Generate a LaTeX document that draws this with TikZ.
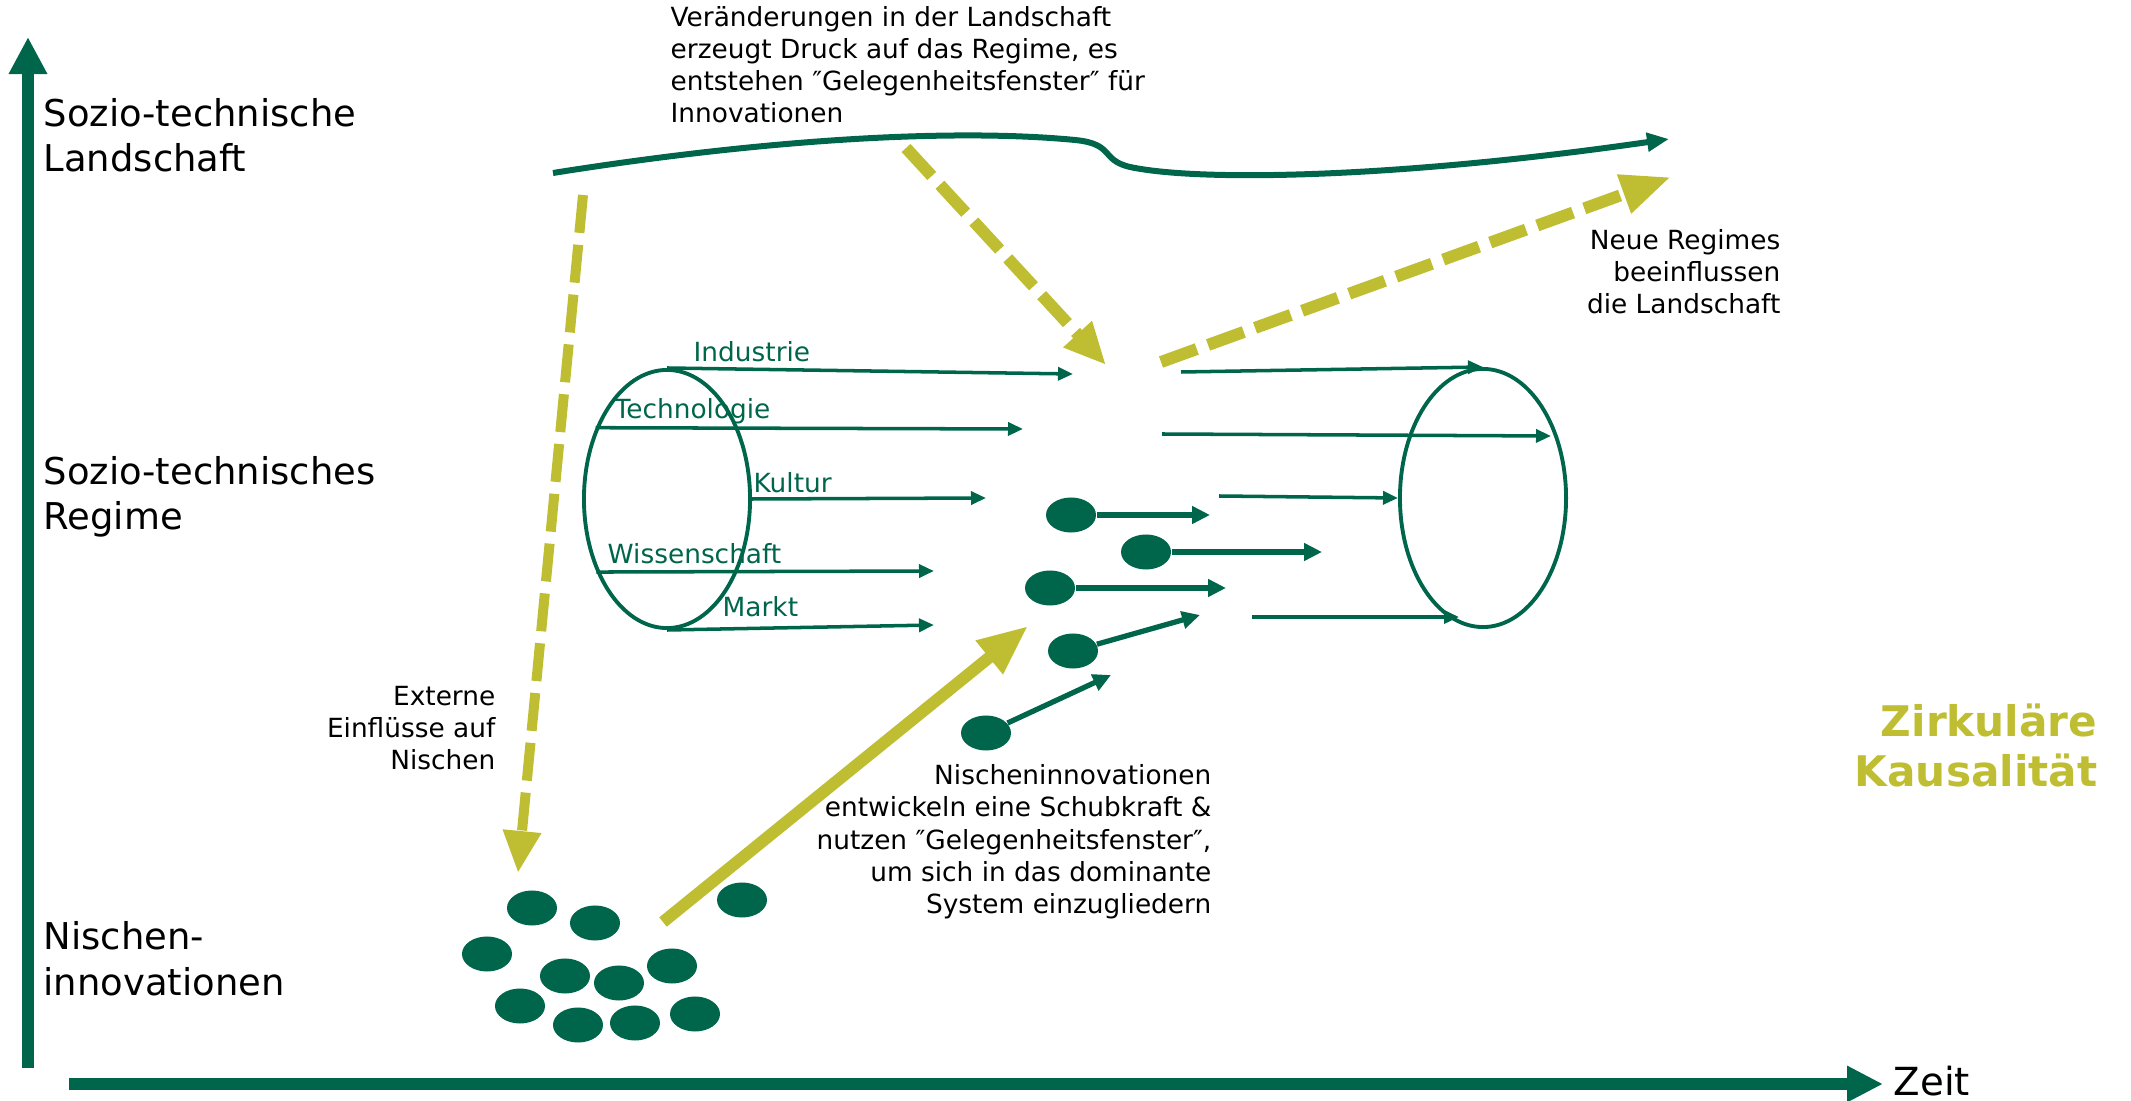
\documentclass[tikz,border=0pt]{standalone}
\usepackage{fontspec}
\setmainfont{DejaVu Sans}
\usepackage{color}
\definecolor{mygreen}{RGB}{0,102,75}
\definecolor{myolive}{RGB}{191,190,51}
\usepackage{tikz}
\usetikzlibrary{arrows.meta,shapes.geometric,positioning,calc}
\tikzstyle{dot}=[fill=mygreen,ellipse,minimum width=0.5cm,minimum height=0.35cm,inner sep=0pt]

\begin{document}
\begin{tikzpicture}[
  x=0.01cm, y=-0.01cm,
  timeaxis/.style={mygreen, line width=0.11cm, -{Triangle[length=0.37cm,width=0.36cm]}},
  regime/.style={draw=mygreen, ellipse, line width=1.1pt, minimum width=1.66cm, minimum height=2.58cm, inner sep=0pt},
  flow/.style={mygreen, line width=1pt, -{Triangle[length=0.15cm,width=0.13cm]}},
  push/.style={mygreen, line width=1.5pt, -{Triangle[length=0.18cm,width=0.17cm]}},
  landline/.style={mygreen, line width=0.06cm, -{Triangle[length=0.22cm,width=0.18cm]}},
  pressure/.style={myolive, line width=0.12cm, dash pattern=on 0.38cm off 0.12cm, -{Triangle[length=0.42cm,width=0.36cm]}},
  axislabel/.style={font=\fontsize{10.5}{12.8}\selectfont, align=left, anchor=base west, inner sep=0pt},
  remark/.style={font=\fontsize{7.5}{9.1}\selectfont, inner sep=0pt},
  dimlabel/.style={text=mygreen, font=\fontsize{7.5}{9}\selectfont, anchor=base west, inner sep=0pt}
]
\useasboundingbox (0,0) rectangle (2131,1101);

% axes
\coordinate (yo) at (28,1068);
\coordinate (ye) at (28,37);
\coordinate (xo) at (69,1084);
\coordinate (xe) at (1883,1084);
\draw[timeaxis] (yo) -- (ye);
\draw[timeaxis, line width=0.12cm, -{Triangle[length=0.36cm,width=0.34cm]}] (xo) -- (xe);
\node[right=0.1cm of xe, yshift=0.03cm, inner sep=0pt, font=\fontsize{11}{13}\selectfont] (zeit) {Zeit};

\node[axislabel] (land) at (43,172) {Sozio-technische\\Landschaft};
\node[axislabel] (regi) at (43,530) {Sozio-technisches\\Regime};
\node[axislabel] (nisc) at (43,995) {Nischen-\\innovationen};

% landscape
\coordinate (lsA) at (553,173);
\coordinate (lsB) at (1669,139);
\draw[landline] (lsA) .. controls (760,140) and (950,128) .. (1075,140)
  .. controls (1115,144) and (1100,160) .. (1130,167)
  .. controls (1200,182) and (1400,178) .. (lsB);

\node[remark, align=left, anchor=base west] (txtland) at (670,123)
  {Veränderungen in der Landschaft\\erzeugt Druck auf das Regime, es\\entstehen ″Gelegenheitsfenster″ für\\Innovationen};
\node[remark, align=right, anchor=base east] (txtneu) at (1781,314)
  {Neue Regimes\\beeinflussen\\die Landschaft};
\node[remark, align=right, anchor=base east] (txtext) at (496,770)
  {Externe\\Einflüsse auf\\Nischen};
\node[remark, align=right, anchor=base east] (txtnis) at (1212,913)
  {Nischeninnovationen\\entwickeln eine Schubkraft \&\\nutzen ″Gelegenheitsfenster″,\\um sich in das dominante\\System einzugliedern};
\node[align=right, anchor=base east, inner sep=0pt, text=myolive,
  font=\fontsize{12}{14.5}\selectfont\bfseries] (zirk) at (2098,787) {Zirkuläre\\Kausalität};

% regimes
\node[regime] (regL) at (667,499) {};
\node[regime] (regR) at (1483,498) {};

\node[dimlabel] (lind) at (693,362) {Industrie};
\node[dimlabel] (ltec) at (614,419) {Technologie};
\node[dimlabel] (lkul) at (753,493) {Kultur};
\node[dimlabel] (lwis) at (607,564) {Wissenschaft};
\node[dimlabel] (lmar) at (722,617) {Markt};

\coordinate (indE) at (1073,374);
\coordinate (tecE) at (1023,429);
\coordinate (kulE) at (986,498);
\coordinate (wisE) at (934,571);
\coordinate (marE) at (934,625);
\draw[flow] (regL.north) -- (indE);
\draw[flow] (regL.135) -- (tecE);
\draw[flow] (regL.east) -- (kulE);
\draw[flow] (regL.226) -- (wisE);
\draw[flow] (regL.south) -- (marE);

\coordinate (r1s) at (1181,372);
\coordinate (r2s) at (1162,434);
\coordinate (r2e) at (1551,436);
\coordinate (r3s) at (1219,496);
\coordinate (r4s) at (1252,617);
\coordinate (r4e) at (1459,617);
\draw[flow] (r1s) -- (regR.north);
\draw[flow] (r2s) -- (r2e);
\draw[flow] (r3s) -- (regR.west);
\draw[flow] (r4s) -- (r4e);

% breaking through
\node[dot] (d1) at (1071,515) {};
\node[dot] (d2) at (1146,552) {};
\node[dot] (d3) at (1050,588) {};
\node[dot] (d4) at (1073,651) {};
\node[dot] (d5) at (986,733) {};
\coordinate (d1e) at (1210,515);
\coordinate (d2e) at (1322,552);
\coordinate (d3e) at (1226,588);
\coordinate (d4e) at (1200,615);
\coordinate (d5e) at (1111,675);
\draw[push] (d1) -- (d1e);
\draw[push] (d2) -- (d2e);
\draw[push] (d3) -- (d3e);
\draw[push] (d4) -- (d4e);
\draw[push] (d5) -- (d5e);

% niches
\node[dot] (n1) at (532,908) {};
\node[dot] (n2) at (595,923) {};
\node[dot] (n3) at (742,900) {};
\node[dot] (n4) at (487,954) {};
\node[dot] (n5) at (565,976) {};
\node[dot] (n6) at (619,983) {};
\node[dot] (n7) at (672,966) {};
\node[dot] (n8) at (520,1006) {};
\node[dot] (n9) at (578,1025) {};
\node[dot] (n10) at (635,1023) {};
\node[dot] (n11) at (695,1014) {};

% influences
\coordinate (extA) at (583,195);
\coordinate (extB) at (518,873);
\coordinate (preA) at (906,148);
\coordinate (preB) at (1106,365);
\coordinate (backA) at (1161,362);
\coordinate (backB) at (1671,177);
\coordinate (upA) at (663,922);
\coordinate (upB) at (1028,626);
\draw[pressure, line width=0.1cm] (extA) -- (extB);
\draw[pressure] (preA) -- (preB);
\draw[pressure, -{Triangle[length=0.5cm,width=0.38cm]}] (backA) -- (backB);
\draw[myolive, line width=0.12cm, -{Triangle[length=0.5cm,width=0.4cm]}] (upA) -- (upB);

\end{tikzpicture}
\end{document}
